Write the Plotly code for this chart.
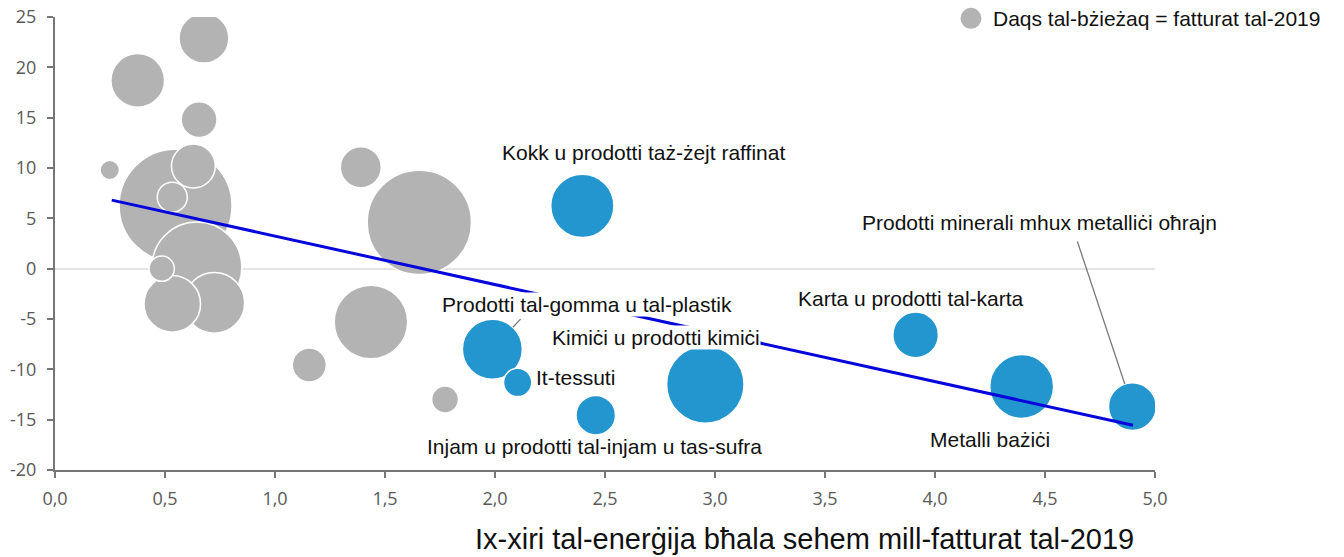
import plotly.graph_objects as go

# energy bill share of 2019 turnover (%), change (%), turnover 2019 (bn)
other_x = [0.548, 1.656, 0.645, 1.436, 0.724, 0.533, 0.376, 0.677,
           0.629, 1.39, 0.655, 1.156, 0.533, 1.773, 0.485, 0.249]
other_y = [6.26, 4.59, 0.16, -5.3, -3.4, -3.5, 18.7, 22.9,
           10.2, 10.07, 14.8, -9.57, 7.1, -13.0, 0.0, 9.8]
other_turnover = [319, 272, 202, 135, 92, 80, 72, 62,
                  48, 42, 32, 29, 22.5, 18, 16, 9.4]

sectors = [
    "Kokk u prodotti taż-żejt raffinat",
    "Prodotti tal-gomma u tal-plastik",
    "It-tessuti",
    "Injam u prodotti tal-injam u tas-sufra",
    "Kimiċi u prodotti kimiċi",
    "Karta u prodotti tal-karta",
    "Metalli bażiċi",
    "Prodotti minerali mhux metalliċi oħrajn",
]
sector_x = [2.397, 1.988, 2.103, 2.458, 2.956, 3.912, 4.394, 4.897]
sector_y = [6.24, -8.0, -11.3, -14.55, -11.5, -6.58, -11.7, -13.7]
sector_turnover = [100, 90, 20, 39, 150, 52, 102, 57]

trend_x = [0.258, 4.9]
trend_y = [6.81, -15.55]

x_ticks = [0, 0.5, 1, 1.5, 2, 2.5, 3, 3.5, 4, 4.5, 5]
y_ticks = [-20, -15, -10, -5, 0, 5, 10, 15, 20, 25]

GRAY = "#b3b3b3"
BLUE = "#2395cf"
LABEL_FONT = dict(family="Liberation Sans, Arial", size=21, color="#111111")
TICK_FONT = dict(family="Open Sans", size=18, color="#595959")
SIZEREF = 0.05

fig = go.Figure()
fig.add_trace(go.Scatter(
    x=other_x, y=other_y, mode="markers", hoverinfo="skip",
    marker=dict(size=other_turnover, sizemode="area", sizeref=SIZEREF,
                color=GRAY, opacity=1, line=dict(color="white", width=1.5)),
))
fig.add_trace(go.Scatter(
    x=sector_x, y=sector_y, mode="markers", text=sectors,
    marker=dict(size=sector_turnover, sizemode="area", sizeref=SIZEREF,
                color=BLUE, opacity=1, line=dict(color="white", width=1.5)),
))
fig.add_trace(go.Scatter(
    x=trend_x, y=trend_y, mode="lines",
    line=dict(color="#0505dc", width=3),
))

# label positions (data coords) for each sector
label_pos = [
    (2.675, 11.5, False),
    (2.42, -3.6, True),
    (2.364, -10.8, False),
    (2.45, -17.7, False),
    (2.73, -6.85, True),
    (3.889, -2.96, False),
    (4.248, -17.0, False),
    (4.477, 4.62, False),
]
for name, (lx, ly, bg) in zip(sectors, label_pos):
    fig.add_annotation(
        x=lx, y=ly, text=name, showarrow=False, font=LABEL_FONT,
        xanchor="center", yanchor="middle", borderpad=0,
        bgcolor="white" if bg else None,
    )

# leader lines from labels to bubbles
for i, ax, ay in [(1, 29.7, -31.7), (7, -55.6, -167)]:
    r = (sector_turnover[i] / (2 * SIZEREF)) ** 0.5
    fig.add_annotation(
        x=sector_x[i], y=sector_y[i], text=" ", font=dict(size=1),
        showarrow=True, arrowhead=0, arrowwidth=1.3, arrowcolor="#7a7a7a",
        ax=ax, ay=ay, standoff=r,
    )

# size legend
fig.add_shape(
    type="circle", xref="paper", yref="paper", xsizemode="pixel", ysizemode="pixel",
    xanchor=0.8327, yanchor=0.997, x0=-10.5, x1=10.5, y0=-10.5, y1=10.5,
    fillcolor=GRAY, line=dict(width=0),
)
fig.add_annotation(
    xref="paper", yref="paper", x=0.8505, y=0.997, xanchor="left", yanchor="middle",
    text="Daqs tal-bżieżaq = fatturat tal-2019", showarrow=False, font=LABEL_FONT,
)

# x axis title
fig.add_annotation(
    xref="paper", yref="paper", x=0.681, y=-0.152, xanchor="center", yanchor="middle",
    text="Ix-xiri tal-enerġija bħala sehem mill-fatturat tal-2019", showarrow=False,
    font=dict(family="Liberation Sans, Arial", size=29, color="#111111"),
)

axis_style = dict(
    showgrid=False, showline=True, linecolor="#767676", linewidth=2,
    ticks="outside", ticklen=6, tickwidth=1.5, tickcolor="#767676",
    tickfont=TICK_FONT, automargin=False,
)
fig.update_xaxes(
    range=[0, 5], tickvals=x_ticks,
    ticktext=[f"{v:.1f}".replace(".", ",") for v in x_ticks],
    zeroline=False, ticklabelstandoff=5, **axis_style,
)
fig.update_yaxes(
    range=[-20, 25], tickvals=y_ticks, ticktext=[str(v) for v in y_ticks],
    zeroline=True, zerolinecolor="#e3e3e3", zerolinewidth=1.5,
    ticklabelstandoff=7, **axis_style,
)
fig.update_layout(
    width=1344, height=557, showlegend=False,
    margin=dict(l=55, r=189, t=17, b=87, autoexpand=False),
    plot_bgcolor="white", paper_bgcolor="white",
)
fig.write_html(
    "out.html",
    config={"displayModeBar": False},
    post_script="document.body.style.margin='0';document.body.style.overflow='hidden';",
)
